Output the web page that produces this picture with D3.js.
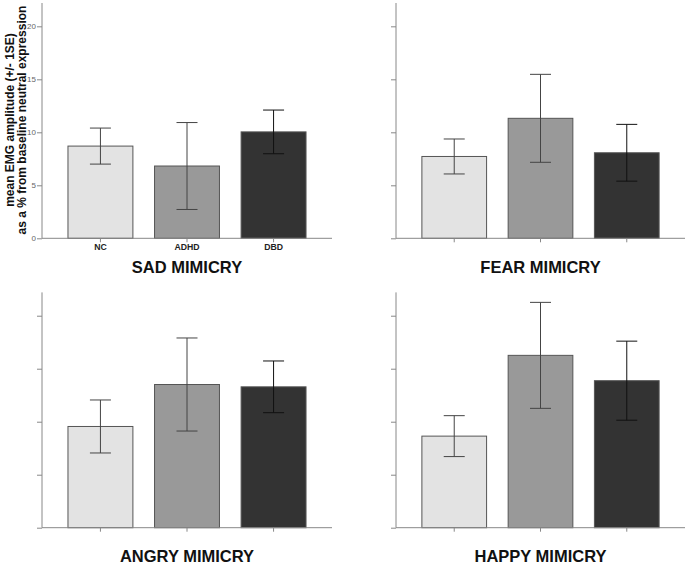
<!DOCTYPE html>
<html>
<head>
<meta charset="utf-8">
<script src="https://cdn.jsdelivr.net/npm/d3@7"></script>
<style>
  html, body { margin: 0; padding: 0; background: #fff; }
  svg { display: block; }
</style>
</head>
<body>
<svg id="chart" width="689" height="564"></svg>
<script>
// ---- data ----
const groups = ["NC", "ADHD", "DBD"];
const panelTitles = ["SAD MIMICRY", "FEAR MIMICRY", "ANGRY MIMICRY", "HAPPY MIMICRY"];
const sadMean   = [8.70, 6.82, 10.04];
const sadSE     = [1.70, 4.10, 2.06];
const fearMean  = [7.72, 11.32, 8.07];
const fearSE    = [1.65, 4.15, 2.68];
const angryMean = [9.55, 13.51, 13.29];
const angrySE   = [2.50, 4.39, 2.44];
const happyMean = [8.64, 16.26, 13.87];
const happySE   = [1.93, 5.00, 3.73];
const yTicks = [0, 5, 10, 15, 20];
const yMax = 22.2;
const yLabelLines = ["mean EMG amplitude (+/- 1SE)", "as a % from baseline neutral expression"];
const barColors = ["#e3e3e3", "#999999", "#333333"];

const panelsData = [
  { title: panelTitles[0], mean: sadMean,   se: sadSE,   showLabels: true },
  { title: panelTitles[1], mean: fearMean,  se: fearSE,  showLabels: false },
  { title: panelTitles[2], mean: angryMean, se: angrySE, showLabels: false },
  { title: panelTitles[3], mean: happyMean, se: happySE, showLabels: false }
];

// ---- layout ----
const font = "'Liberation Sans', Arial, sans-serif";
const colX = [[42, 332], [396, 685]];
const rowY = [238.3, 527.7];
const plotH = 235.3;
const titleOffset = 34.2;

const svg = d3.select("#chart");

panelsData.forEach((p, i) => {
  const col = i % 2, row = Math.floor(i / 2);
  const [x0, x1] = colX[col];
  const yBase = rowY[row];

  const x = d3.scaleBand().domain(groups).range([x0, x1])
    .paddingInner(0.25).paddingOuter(0.3);
  const y = d3.scaleLinear().domain([0, yMax]).range([yBase, yBase - plotH]);

  const g = svg.append("g");

  // bars
  g.selectAll("rect.bar").data(groups).enter().append("rect")
    .attr("x", d => x(d))
    .attr("y", (d, k) => y(p.mean[k]))
    .attr("width", x.bandwidth())
    .attr("height", (d, k) => y(0) - y(p.mean[k]))
    .attr("fill", (d, k) => barColors[k])
    .attr("stroke", "#555")
    .attr("stroke-width", 1);

  // error bars
  const capHalf = 10.5;
  groups.forEach((d, k) => {
    const cx = x(d) + x.bandwidth() / 2;
    const hi = y(p.mean[k] + p.se[k]), lo = y(p.mean[k] - p.se[k]);
    const col2 = k === 2 ? "#111" : "#444";
    g.append("line").attr("x1", cx).attr("x2", cx).attr("y1", hi).attr("y2", lo)
      .attr("stroke", col2).attr("stroke-width", 1);
    g.append("line").attr("x1", cx - capHalf).attr("x2", cx + capHalf).attr("y1", hi).attr("y2", hi)
      .attr("stroke", col2).attr("stroke-width", 1);
    g.append("line").attr("x1", cx - capHalf).attr("x2", cx + capHalf).attr("y1", lo).attr("y2", lo)
      .attr("stroke", col2).attr("stroke-width", 1);
  });

  // y axis
  const yAxis = d3.axisLeft(y).tickValues(yTicks).tickSize(5).tickPadding(1)
    .tickFormat(p.showLabels ? d3.format("d") : () => "");
  const ya = g.append("g").attr("transform", `translate(${x0},0)`).call(yAxis);
  ya.select(".domain").attr("stroke", "#888").attr("d", `M-0,${yBase}V${yBase - plotH}`);
  ya.selectAll(".tick line").attr("stroke", "#888");
  ya.selectAll(".tick text").attr("fill", "#666").style("font-family", font).style("font-size", "8px");

  // x axis
  const xAxis = d3.axisBottom(x).tickSize(4).tickPadding(2)
    .tickFormat(p.showLabels ? (d => d) : () => "");
  const xa = g.append("g").attr("transform", `translate(0,${yBase})`).call(xAxis);
  xa.select(".domain").attr("stroke", "#888").attr("d", `M${x0},0H${x1}`);
  xa.selectAll(".tick line").attr("stroke", "#888");
  xa.selectAll(".tick text").attr("fill", "#222").style("font-family", font)
    .style("font-size", "8.7px").style("font-weight", "bold");

  // title
  g.append("text")
    .attr("x", (x0 + x1) / 2)
    .attr("y", yBase + titleOffset)
    .attr("text-anchor", "middle")
    .style("font-family", font).style("font-size", "16.5px").style("font-weight", "bold")
    .attr("fill", "#111")
    .text(p.title);
});

// y-axis label (two lines, rotated)
const cy = 120;
const lab = svg.append("g");
yLabelLines.forEach((t, j) => {
  lab.append("text")
    .attr("transform", `translate(${14 + j * 12},${cy}) rotate(-90)`)
    .attr("text-anchor", "middle")
    .style("font-family", font).style("font-size", "12px").style("font-weight", "bold")
    .attr("fill", "#111")
    .text(t);
});
</script>
</body>
</html>
